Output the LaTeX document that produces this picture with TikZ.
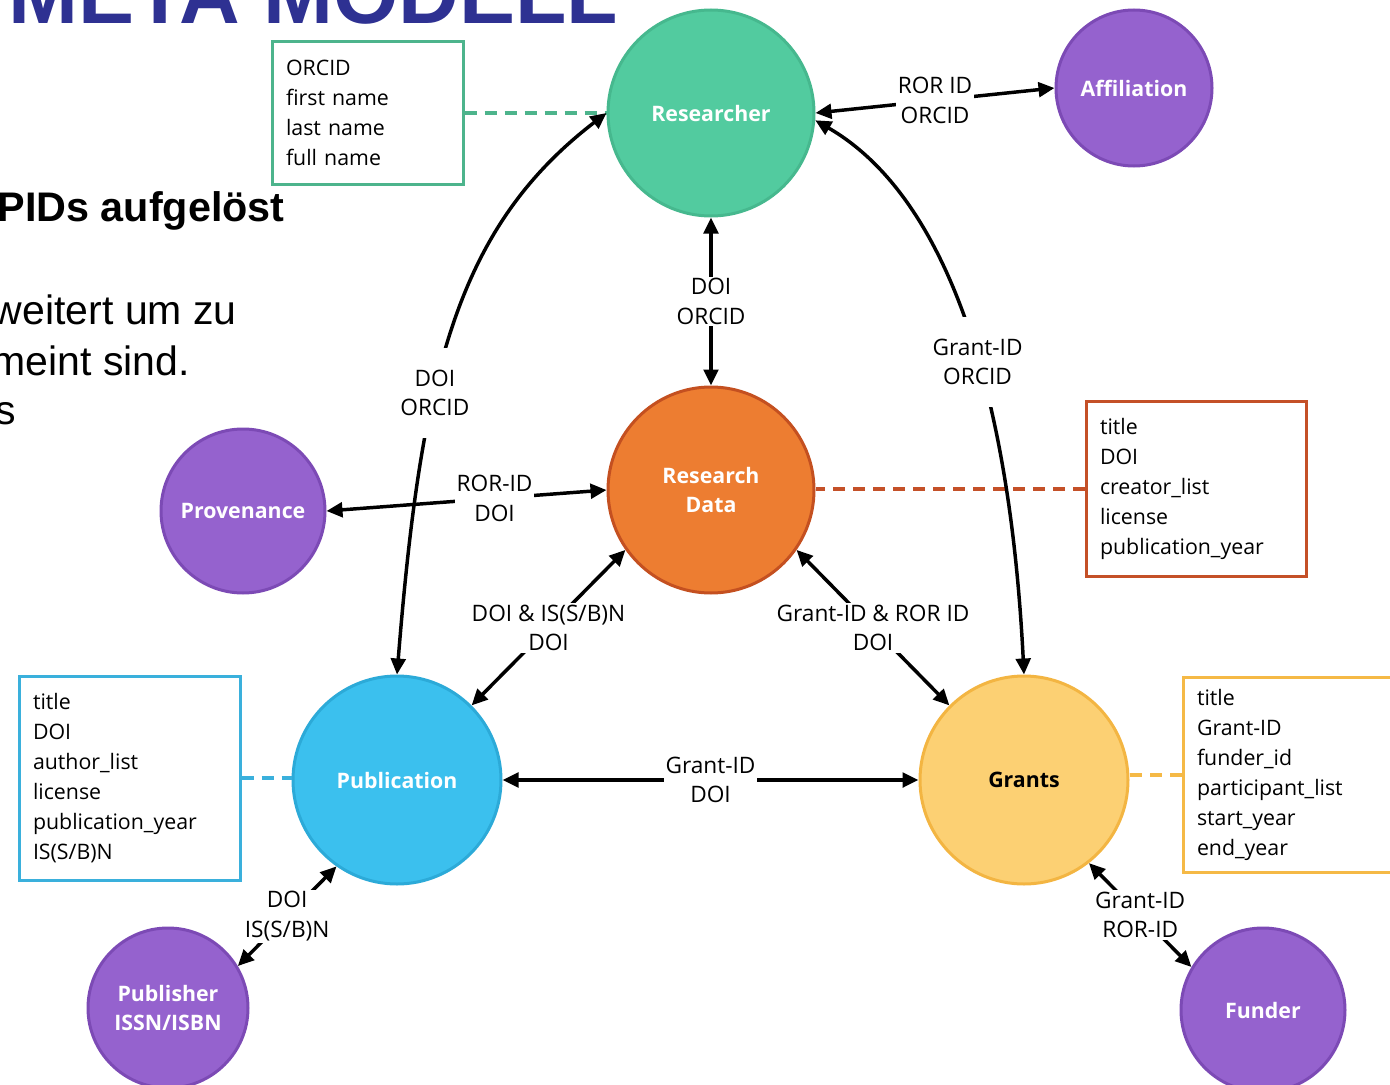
\documentclass[tikz,border=0pt]{standalone}
\usepackage{fontspec}
\setmainfont{Open Sans}
\newfontfamily\slidefont{Liberation Sans}
\usetikzlibrary{arrows.meta}

% entity colours (fill / outline)
\definecolor{greenfill}{RGB}{82,203,159}
\definecolor{greenline}{RGB}{70,184,142}
\definecolor{purplefill}{RGB}{149,98,206}
\definecolor{purpleline}{RGB}{124,74,181}
\definecolor{orangefill}{RGB}{237,125,49}
\definecolor{orangeline}{RGB}{196,80,32}
\definecolor{bluefill}{RGB}{59,192,238}
\definecolor{blueline}{RGB}{44,170,216}
\definecolor{yellowfill}{RGB}{252,208,115}
\definecolor{yellowline}{RGB}{243,181,66}
% attribute box outlines
\definecolor{greenbox}{RGB}{77,180,140}
\definecolor{orangebox}{RGB}{196,80,40}
\definecolor{bluebox}{RGB}{58,176,220}
\definecolor{yellowbox}{RGB}{245,185,70}
\definecolor{titleblue}{RGB}{46,49,146}

\begin{document}
\begin{tikzpicture}[x=0.75pt,y=-0.75pt,
  entity/.style={circle, draw, line width=2.25pt, inner sep=0pt, align=center,
    font=\bfseries\fontsize{16}{22}\selectfont, text=white},
  attrbox/.style={rectangle, draw, line width=2.25pt, fill=white, align=left,
    font=\fontsize{16}{22.5}\selectfont, inner xsep=10.5pt, inner ysep=0pt},
  link/.style={line width=2.6pt, {Triangle[length=12pt,width=11pt]}-{Triangle[length=12pt,width=11pt]}},
  tag/.style={fill=white, inner sep=1.5pt, align=center, font=\fontsize{17}{22}\selectfont},
  attrlink/.style={line width=3pt, dash pattern=on 9pt off 6pt},
  slidetext/.style={inner sep=0pt, font=\slidefont\fontsize{30.75}{37}\selectfont},
]
\useasboundingbox (0,0) rectangle (1390,1085);
\clip (0,0) rectangle (1390,1085);

% slide text behind the diagram
\node[slidetext, anchor=base west, text=titleblue,
  font=\slidefont\bfseries\fontsize{63}{70}\selectfont] (title) at (8,23) {META MODELL};
\node[slidetext, anchor=base east, font=\slidefont\bfseries\fontsize{31}{36}\selectfont]
  (pids) at (285,221) {PIDs aufgelöst};
\node[slidetext, anchor=base east] (lineA) at (237,324) {weitert um zu};
\node[slidetext, anchor=base east] (lineB) at (190,375) {meint sind.};
\node[slidetext, anchor=base east] (lineC) at (16,424) {s};

% entities
\node[entity, fill=greenfill, draw=greenline, minimum size=154.5pt] (res) at (711,113) {Researcher};
\node[entity, fill=purplefill, draw=purpleline, minimum size=117pt] (aff) at (1134,88) {Affiliation};
\node[entity, fill=orangefill, draw=orangeline, minimum size=154.5pt] (rd) at (711,490) {Research\\Data};
\node[entity, fill=purplefill, draw=purpleline, minimum size=123pt] (prov) at (243,511) {Provenance};
\node[entity, fill=bluefill, draw=blueline, minimum size=156pt] (pub) at (397,780) {Publication};
\node[entity, fill=yellowfill, draw=yellowline, minimum size=156pt, text=black] (gr) at (1024,780) {Grants};
\node[entity, fill=purplefill, draw=purpleline, minimum size=120pt] (publ) at (168,1008) {Publisher\\ISSN/ISBN};
\node[entity, fill=purplefill, draw=purpleline, minimum size=123pt] (fund) at (1263,1010) {Funder};

% attribute boxes
\node[attrbox, draw=greenbox, text width=122.25pt, minimum height=107.25pt] (resattr) at (367.5,112.5)
  {ORCID\\first name\\last name\\full name};
\node[attrbox, draw=orangebox, text width=144pt, minimum height=131.25pt] (rdattr) at (1196,488.5)
  {title\\DOI\\creator\_list\\license\\publication\_year};
\node[attrbox, draw=bluebox, text width=144.75pt, minimum height=153pt] (pubattr) at (129.5,778)
  {title\\DOI\\author\_list\\license\\publication\_year\\IS(S/B)N};
\node[attrbox, draw=yellowbox, text width=144pt, minimum height=146.25pt] (grattr) at (1293,774.5)
  {title\\Grant-ID\\funder\_id\\participant\_list\\start\_year\\end\_year};

% dashed attribute links
\draw[attrlink, draw=greenbox] (resattr.east) -- (resattr.east -| res.west);
\draw[attrlink, draw=orangebox] (rdattr.west) -- (rdattr.west -| rd.east);
\draw[attrlink, draw=bluebox] (pubattr.east) -- (pubattr.east -| pub.west);
\draw[attrlink, draw=yellowbox] (grattr.west) -- (grattr.west -| gr.east);

% identifier links
\draw[link] (prov.east) -- node[tag, pos=0.6] {ROR-ID\\DOI} (rd.west);
\draw[link] (pub.north) .. controls (421,376) and (456,228.5) .. (res.west)
  node[tag, pos=0.38, minimum width=93.75pt, minimum height=67.5pt] {DOI\\ORCID};
\draw[link] (gr.north) .. controls (1009,376) and (941,193) .. (res.-4)
  node[tag, pos=0.415, minimum width=96pt, minimum height=67.5pt] {Grant-ID\\ORCID};
\draw[link] (res.east) -- node[tag] {ROR ID\\ORCID} (aff.west);
\draw[link] (res.south) -- node[tag] {DOI\\ORCID} (rd.north);
\draw[link] (pub.45) -- node[tag] {DOI \& IS(S/B)N\\DOI} (rd.215);
\draw[link] (rd.-35) -- node[tag] {Grant-ID \& ROR ID\\DOI} (gr.135);
\draw[link] (pub.east) -- node[tag] {Grant-ID\\DOI} (gr.west);
\draw[link] (pub.235) -- node[tag] {DOI\\IS(S/B)N} (publ.31);
\draw[link] (gr.-52) -- node[tag] {Grant-ID\\ROR-ID} (fund.149);
\end{tikzpicture}
\end{document}
